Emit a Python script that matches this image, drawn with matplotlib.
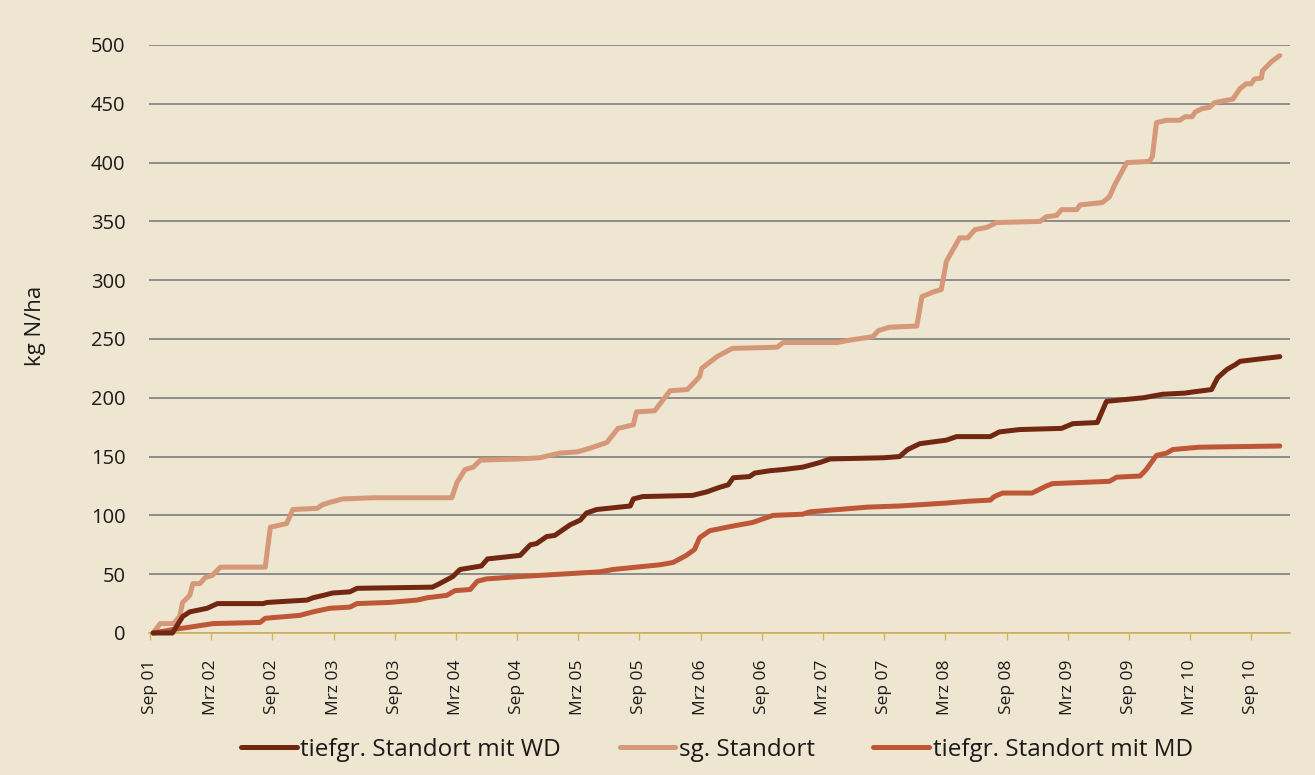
import matplotlib
matplotlib.use('Agg')
import matplotlib.pyplot as plt

# x = months since Sep 2001, y = cumulative kg N/ha
tick_labels = ['Sep 01', 'Mrz 02', 'Sep 02', 'Mrz 03', 'Sep 03', 'Mrz 04', 'Sep 04',
               'Mrz 05', 'Sep 05', 'Mrz 06', 'Sep 06', 'Mrz 07', 'Sep 07', 'Mrz 08',
               'Sep 08', 'Mrz 09', 'Sep 09', 'Mrz 10', 'Sep 10']
tick_months = [0, 6, 12, 18, 24, 30, 36, 42, 48, 54, 60, 66, 72, 78, 84, 90, 96, 102, 108]

wd_x = [0.3, 2.2, 3.2, 3.9, 5.6, 6.6, 11.1, 11.5, 15.4, 16.0, 17.0, 17.9, 19.6, 20.3,
        27.7, 28.4, 29.7, 30.4, 32.5, 33.1, 36.3, 37.3, 37.9, 38.9, 39.7, 41.2, 42.2,
        42.8, 43.8, 47.1, 47.4, 48.3, 53.2, 54.6, 55.9, 56.7, 57.2, 58.8, 59.3, 60.8,
        62.1, 64.0, 65.7, 66.7, 71.9, 73.5, 74.3, 75.5, 78.1, 79.1, 82.4, 83.3, 85.3,
        89.4, 90.5, 92.9, 93.3, 93.8, 97.4, 99.3, 101.5, 102.3, 104.1, 104.7, 105.6,
        106.4, 106.9, 108.8, 110.8]
wd_y = [0, 0, 14, 18, 21, 25, 25, 26, 28, 30, 32, 34, 35, 38,
        39, 42, 48, 54, 57, 63, 66, 75, 76, 82, 83, 92, 96,
        102, 105, 108, 114, 116, 117, 120, 124, 126, 132, 133, 136, 138,
        139, 141, 145, 148, 149, 150, 156, 161, 164, 167, 167, 171, 173,
        174, 178, 179, 187, 197, 200, 203, 204, 205, 207, 217, 224,
        228, 231, 233, 235]

sg_x = [0.3, 1.0, 2.3, 2.9, 3.2, 3.9, 4.2, 4.9, 5.4, 6.1, 6.9, 11.3, 11.8, 13.4, 14.0,
        16.4, 16.9, 17.6, 18.9, 21.9, 29.6, 30.1, 30.9, 31.7, 32.4, 36.3, 38.2, 40.2,
        41.9, 43.1, 44.8, 45.9, 47.4, 47.7, 49.5, 51.0, 52.7, 53.9, 54.1, 55.6, 57.1,
        61.5, 62.1, 67.4, 68.6, 70.9, 71.4, 72.5, 75.2, 75.7, 76.8, 77.6, 78.1, 79.4,
        80.2, 80.9, 82.1, 83.0, 87.3, 87.9, 88.9, 89.4, 90.9, 91.2, 93.4, 94.1, 94.6,
        95.8, 98.0, 98.3, 98.7, 99.7, 101.0, 101.5, 102.2, 102.5, 103.2, 103.9, 104.4,
        106.2, 106.9, 107.5, 108.0, 108.3, 109.0, 109.1, 110.0, 110.8]
sg_y = [0, 8, 8, 14, 26, 32, 42, 42, 47, 49, 56, 56, 90, 93, 105,
        106, 109, 111, 114, 115, 115, 128, 139, 141, 147, 148, 149, 153,
        154, 157, 162, 174, 177, 188, 189, 206, 207, 218, 225, 235, 242,
        243, 247, 247, 249, 252, 257, 260, 261, 286, 290, 292, 316, 336,
        336, 343, 345, 349, 350, 354, 355, 360, 360, 364, 366, 371, 381,
        400, 401, 405, 434, 436, 436, 439, 439, 443, 446, 447, 451,
        454, 463, 467, 467, 471, 472, 478, 486, 491]

md_x = [0.3, 2.3, 3.9, 6.2, 10.8, 11.3, 14.7, 16.0, 17.6, 19.6, 20.3, 23.5, 26.2, 27.2,
        29.1, 29.9, 31.4, 32.1, 33.0, 36.3, 44.1, 45.4, 50.0, 51.3, 52.6, 53.4, 53.9,
        54.9, 57.2, 59.1, 61.1, 64.0, 64.7, 70.3, 73.5, 78.1, 80.2, 82.4, 82.8, 83.6,
        86.5, 87.9, 88.5, 94.1, 94.8, 97.1, 97.7, 98.2, 98.7, 99.7, 100.3, 102.9, 110.8]
md_y = [0, 3, 5, 8, 9, 12.5, 15, 18, 21, 22, 25, 26, 28, 30,
        32, 36, 37, 44, 46, 48, 52, 54, 58, 60, 66, 71, 81,
        87, 91, 94, 100, 101, 103, 107, 108, 110.5, 112, 113, 116, 119,
        119, 125, 127, 129, 132.5, 133.5, 139, 145, 151, 153, 156, 158, 159]

BG = '#EFE6D1'
plt.rcParams['font.family'] = ['Open Sans', 'DejaVu Sans']

fig = plt.figure(figsize=(13.15, 7.75), dpi=100, facecolor=BG)
ax = fig.add_axes([149/1315, 1 - 633/775, 1141/1315, 588/775], facecolor=BG)

ax.set_xlim(-0.1, 111.8)
ax.set_ylim(0, 500)
ax.set_yticks(range(0, 501, 50))
ax.grid(axis='y', color='#8C8C8C', linewidth=1.4)
ax.set_axisbelow(True)

lw = 3.6
ax.plot(wd_x, wd_y, color='#722712', lw=lw, solid_capstyle='round',
        solid_joinstyle='round', clip_on=False, label='tiefgr. Standort mit WD', zorder=3)
ax.plot(sg_x, sg_y, color='#D59879', lw=lw, solid_capstyle='round',
        solid_joinstyle='round', clip_on=False, label='sg. Standort', zorder=2)
ax.plot(md_x, md_y, color='#BD5737', lw=lw, solid_capstyle='round',
        solid_joinstyle='round', clip_on=False, label='tiefgr. Standort mit MD', zorder=2.5)

for s in ['top', 'right', 'left']:
    ax.spines[s].set_visible(False)
ax.spines['bottom'].set_color('#D4B45E')
ax.spines['bottom'].set_linewidth(1.2)

ax.set_xticks(tick_months)
ax.set_xticklabels(tick_labels, rotation=90, fontsize=12.5, color='#1A1A1A')
ax.tick_params(axis='x', length=5, width=1, color='#D4B45E', pad=14)
ax.tick_params(axis='y', length=0, pad=17, labelsize=14.5, labelcolor='#1A1A1A')

fig.text(35/1315, 1 - 326/775, 'kg N/ha', rotation=90, fontsize=16,
         ha='center', va='center', color='#1A1A1A')

fig.legend(loc='center', bbox_to_anchor=(717/1315, 1 - 750/775), ncol=3,
           frameon=False, fontsize=17.5, handlelength=2.3, handletextpad=0.15,
           columnspacing=2.4, labelcolor='#1A1A1A')

fig.savefig('out.png', dpi=100, facecolor=BG)
